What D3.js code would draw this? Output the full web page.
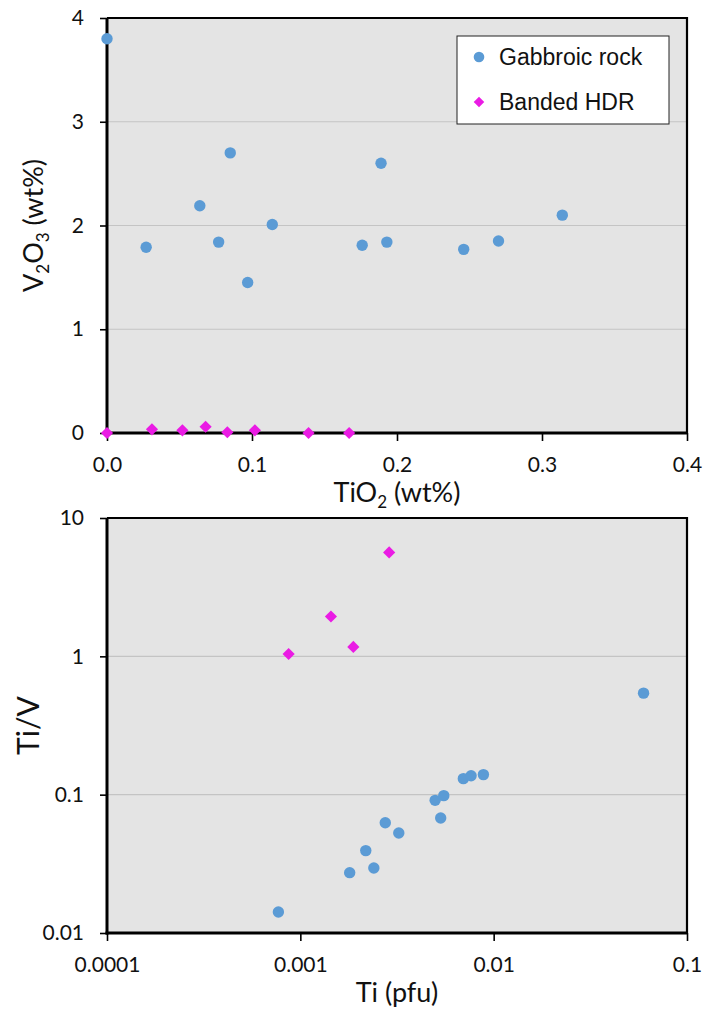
<!DOCTYPE html>
<html>
<head>
<meta charset="utf-8">
<script src="https://cdn.jsdelivr.net/npm/d3@7"></script>
<style>
	body { margin: 0; background: #ffffff; }
</style>
</head>
<body>
<div id="chart"></div>
<script>
// top panel: V2O3 (wt%) against TiO2 (wt%)
const gabbroTiO2 = [0.000, 0.027, 0.064, 0.085, 0.077, 0.114, 0.097, 0.189, 0.176, 0.193, 0.246, 0.270, 0.314];
const gabbroV2O3 = [3.80, 1.79, 2.19, 2.70, 1.84, 2.01, 1.45, 2.60, 1.81, 1.84, 1.77, 1.85, 2.10];
const hdrTiO2 = [0.000, 0.031, 0.052, 0.068, 0.083, 0.102, 0.139, 0.167];
const hdrV2O3 = [0.000, 0.035, 0.026, 0.060, 0.007, 0.026, 0.000, 0.000];

// bottom panel: Ti/V against Ti (pfu), both log
const gabbroTi = [0.0596, 0.00077, 0.00180, 0.00218, 0.00240, 0.00275, 0.00323, 0.00498, 0.00552, 0.00532, 0.00697, 0.00764, 0.00885];
const gabbroTiV = [0.542, 0.0142, 0.0273, 0.0394, 0.0295, 0.0627, 0.0528, 0.091, 0.0984, 0.0678, 0.1306, 0.137, 0.1396];
const hdrTi = [0.00087, 0.00144, 0.00188, 0.00288];
const hdrTiV = [1.04, 1.94, 1.17, 5.64];

// ticks
const topXTicks = [0, 0.1, 0.2, 0.3, 0.4];
const topYTicks = [0, 1, 2, 3, 4];
const botXTicks = [0.0001, 0.001, 0.01, 0.1];
const botXLabels = ['0.0001', '0.001', '0.01', '0.1'];
const botYTicks = [0.01, 0.1, 1, 10];
const botYLabels = ['0.01', '0.1', '1', '10'];
const seriesNames = ['Gabbroic rock', 'Banded HDR'];

const W = 707, H = 1011;
const blue = '#5b9bd5';
const magenta = '#ea1be4';
const plotBg = '#e4e4e4';
const gridCol = '#c4c4c4';
const tickFont = "Lato, 'Open Sans', sans-serif";

const svg = d3.select('#chart').append('svg')
	.attr('width', W)
	.attr('height', H);

const diamond = d3.symbol().type(d3.symbolSquare).size(74);

// draws one panel; x/y scales come in already set up
function drawPanel(p) {
	const g = svg.append('g');
	const [x0, x1] = p.x.range();
	const [y0, y1] = p.y.range(); // y0 bottom, y1 top

	g.append('rect')
		.attr('x', x0).attr('y', y1)
		.attr('width', x1 - x0).attr('height', y0 - y1)
		.attr('fill', plotBg);

	// horizontal gridlines, interior only
	g.selectAll('line.grid')
		.data(p.yTicks.slice(1, -1))
		.join('line')
		.attr('x1', x0).attr('x2', x1)
		.attr('y1', d => p.y(d)).attr('y2', d => p.y(d))
		.attr('stroke', gridCol)
		.attr('stroke-width', 1.2);

	// frame on top and right
	g.append('path')
		.attr('d', `M${x0},${y1}H${x1}V${y0}`)
		.attr('fill', 'none')
		.attr('stroke', '#000')
		.attr('stroke-width', 2.2);

	const xAxis = d3.axisBottom(p.x)
		.tickValues(p.xTicks)
		.tickFormat((d, i) => p.xLabels[i])
		.tickSizeInner(8).tickSizeOuter(0).tickPadding(16);
	const yAxis = d3.axisLeft(p.y)
		.tickValues(p.yTicks)
		.tickFormat((d, i) => p.yLabels[i])
		.tickSizeInner(7).tickSizeOuter(0).tickPadding(16);

	const gx = g.append('g')
		.attr('transform', `translate(0,${y0})`)
		.call(xAxis);
	const gy = g.append('g')
		.attr('transform', `translate(${x0},0)`)
		.call(yAxis);

	[gx, gy].forEach(a => {
		a.select('.domain').attr('stroke', '#000').attr('stroke-width', 3);
		a.selectAll('.tick line').attr('stroke', '#000').attr('stroke-width', 1.6);
		a.selectAll('.tick text')
			.attr('fill', '#111')
			.style('font-family', tickFont)
			.style('font-size', '21px');
	});
	// the axis line has to reach the corner
	gx.select('.domain').attr('d', `M${x0 - 1.5},0H${x1}`);
	gy.select('.domain').attr('d', `M0,${y0 + 1.5}V${y1}`);

	// x title
	const xt = g.append('text')
		.attr('x', (x0 + x1) / 2)
		.attr('y', p.xTitleY)
		.attr('text-anchor', 'middle')
		.style('font-family', tickFont)
		.style('font-size', '27px')
		.attr('fill', '#111');
	p.xTitle.forEach(part => addPart(xt, part));

	// y title (rotated)
	const yt = g.append('text')
		.attr('transform', `translate(${p.yTitleX},${(y0 + y1) / 2}) rotate(-90)`)
		.attr('text-anchor', 'middle')
		.style('font-family', tickFont)
		.style('font-size', p.yTitleSize || '27px')
		.attr('fill', '#111');
	p.yTitle.forEach(part => addPart(yt, part));

	// points
	g.selectAll('circle.gab')
		.data(p.gabX.map((v, i) => [v, p.gabY[i]]))
		.join('circle')
		.classed('gab', true)
		.attr('cx', d => p.x(d[0]))
		.attr('cy', d => p.y(d[1]))
		.attr('r', 5.7)
		.attr('fill', blue);

	g.selectAll('path.hdr')
		.data(p.hdrX.map((v, i) => [v, p.hdrY[i]]))
		.join('path')
		.classed('hdr', true)
		.attr('d', diamond)
		.attr('transform', d => `translate(${p.x(d[0])},${p.y(d[1])}) rotate(45)`)
		.attr('fill', magenta);

	return g;
}

// text pieces: [string, isSubscript]
function addPart(textSel, part) {
	const kids = textSel.node().childNodes;
	const prevSub = kids.length > 0 && kids[kids.length - 1].__sub;
	const t = textSel.append('tspan').text(part[0]);
	if (part[1]) {
		t.style('font-size', '17px').attr('dy', 6);
	} else if (prevSub) {
		t.attr('dy', -6);
	}
	t.node().__sub = part[1];
}

// TOP PANEL
const topX = d3.scaleLinear().domain([0, 0.4]).range([107, 687]);
const topY = d3.scaleLinear().domain([0, 4]).range([433, 18]);
const topPanel = drawPanel({
	x: topX, y: topY,
	xTicks: topXTicks, xLabels: topXTicks.map(d3.format('.1f')),
	yTicks: topYTicks, yLabels: topYTicks.map(String),
	xTitle: [['TiO', false], ['2', true], [' (wt%)', false]],
	yTitle: [['V', false], ['2', true], ['O', false], ['3', true], [' (wt%)', false]],
	xTitleY: 502,
	yTitleX: 43,
	gabX: gabbroTiO2, gabY: gabbroV2O3,
	hdrX: hdrTiO2, hdrY: hdrV2O3
});

// legend
const leg = topPanel.append('g');
leg.append('rect')
	.attr('x', 457).attr('y', 36)
	.attr('width', 212).attr('height', 88)
	.attr('fill', '#fff')
	.attr('stroke', '#222')
	.attr('stroke-width', 1);
leg.append('circle')
	.attr('cx', 479).attr('cy', 57).attr('r', 5.3)
	.attr('fill', blue);
leg.append('path')
	.attr('d', d3.symbol().type(d3.symbolSquare).size(56))
	.attr('transform', 'translate(479,102) rotate(45)')
	.attr('fill', magenta);
leg.selectAll('text')
	.data(seriesNames)
	.join('text')
	.attr('x', 499)
	.attr('y', (d, i) => 57 + i * 45)
	.attr('dy', '0.36em')
	.text(d => d)
	.style('font-family', "'Liberation Sans', Arial, sans-serif")
	.style('font-size', '23px')
	.attr('fill', '#111');

// BOTTOM PANEL
const botX = d3.scaleLog().domain([0.0001, 0.1]).range([107, 687]);
const botY = d3.scaleLog().domain([0.01, 10]).range([933, 518]);
drawPanel({
	x: botX, y: botY,
	xTicks: botXTicks, xLabels: botXLabels,
	yTicks: botYTicks, yLabels: botYLabels,
	xTitle: [['Ti (pfu)', false]],
	yTitle: [['Ti/V', false]],
	xTitleY: 1002,
	yTitleX: 39,
	yTitleSize: '30px',
	gabX: gabbroTi, gabY: gabbroTiV,
	hdrX: hdrTi, hdrY: hdrTiV
});
</script>
</body>
</html>
